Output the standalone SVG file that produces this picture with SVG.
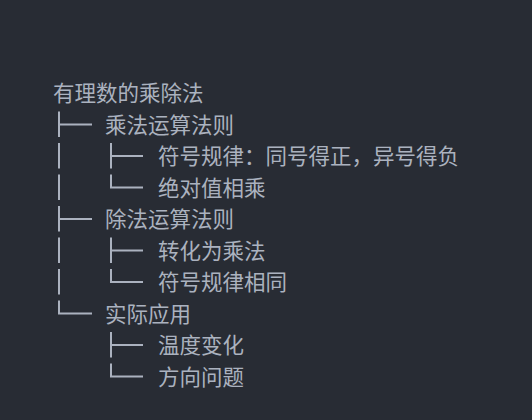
<svg xmlns="http://www.w3.org/2000/svg" width="532" height="420" viewBox="0 0 532 420">
<style>
.t{font-family:"Noto Sans CJK SC","Noto Sans",sans-serif;font-size:21.5px;fill:#abb2bf}
.c{fill:none;stroke:#abb2bf;stroke-width:2;stroke-linecap:butt}
</style>
<rect width="532" height="420" fill="#282c34"/>
<g id="connectors" class="c">
<path d="M59 111.5V137M59 124.5H92"/>
<path d="M59 143V168.5M59 174.5V200"/>
<path d="M59 206V231.5M59 219H92"/>
<path d="M59 237.5V263M59 269V294.5"/>
<path d="M59 300.5V313.5H92"/>
<path d="M111 143V168.5M111 156H143"/>
<path d="M111 174.5V187.5H143"/>
<path d="M111 237.5V263M111 250.5H143"/>
<path d="M111 269V282H143"/>
<path d="M111 332V357.5M111 345H143"/>
<path d="M111 363.5V376.5H143"/>
</g>
<g id="root"><text class="t" x="53" y="101">有理数的乘除法</text></g>
<g id="mul"><text class="t" x="105" y="132.5">乘法运算法则</text></g>
<g id="mul-sign"><text class="t" x="158" y="164">符号规律：同号得正，异号得负</text></g>
<g id="mul-abs"><text class="t" x="158" y="195.5">绝对值相乘</text></g>
<g id="div"><text class="t" x="105" y="227">除法运算法则</text></g>
<g id="div-conv"><text class="t" x="158" y="258.5">转化为乘法</text></g>
<g id="div-sign"><text class="t" x="158" y="290">符号规律相同</text></g>
<g id="app"><text class="t" x="105" y="321.5">实际应用</text></g>
<g id="app-temp"><text class="t" x="158" y="353">温度变化</text></g>
<g id="app-dir"><text class="t" x="158" y="384.5">方向问题</text></g>
</svg>
